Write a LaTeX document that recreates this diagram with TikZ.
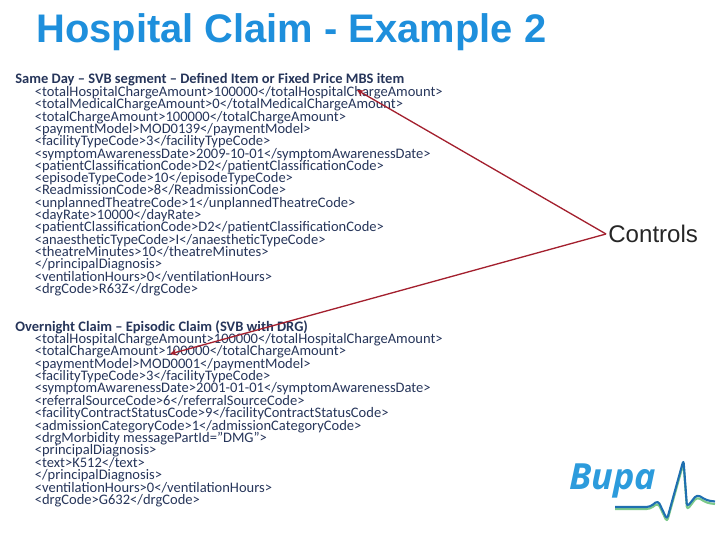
\documentclass[tikz,border=0pt]{standalone}
\usepackage{fontspec}
\setmainfont{Carlito}
\newfontfamily\arialfont{Liberation Sans}
\newfontfamily\logofont{Open Sans}
\definecolor{titleblue}{HTML}{1E8FDC}
\definecolor{arrowred}{HTML}{A3202E}
\definecolor{codeblue}{HTML}{26355A}
\definecolor{logoblue}{HTML}{2C9BDC}
\definecolor{wavegreen}{HTML}{7CC98A}
\definecolor{wavenavy}{HTML}{1F6FB0}
\tikzset{
    codeline/.style={anchor=base west,inner sep=0pt,text=codeblue,font=\fontsize{8.27}{10}\selectfont},
    headline/.style={codeline,font=\fontsize{8.24}{10}\selectfont\bfseries},
    redarrow/.style={arrowred,line width=0.75pt,-stealth},
    ecgline/.style={line width=1.2pt,line join=round,rounded corners=2pt}
}
\begin{document}
\begin{tikzpicture}
                \useasboundingbox (0,0) rectangle (14.4,10.8);
                \node[anchor=base west,inner sep=0pt,text=titleblue,font=\arialfont\bfseries\fontsize{22.7}{27}\selectfont] (title) at (0.72,9.94) {Hospital Claim - Example 2};

                \node[headline] (sameHead) at (0.30,9.13) {Same Day -- SVB segment -- Defined Item or Fixed Price MBS item};
                \node[codeline] (same1) at (0.69,8.87) {<totalHospitalChargeAmount>100000</totalHospitalChargeAmount>};
                \node[codeline] (same2) at (0.69,8.624) {<totalMedicalChargeAmount>0</totalMedicalChargeAmount>};
                \node[codeline] (same3) at (0.69,8.378) {<totalChargeAmount>100000</totalChargeAmount>};
                \node[codeline] (same4) at (0.69,8.132) {<paymentModel>MOD0139</paymentModel>};
                \node[codeline] (same5) at (0.69,7.886) {<facilityTypeCode>3</facilityTypeCode>};
                \node[codeline] (same6) at (0.69,7.639) {<symptomAwarenessDate>2009-10-01</symptomAwarenessDate>};
                \node[codeline] (same7) at (0.69,7.393) {<patientClassificationCode>D2</patientClassificationCode>};
                \node[codeline] (same8) at (0.69,7.147) {<episodeTypeCode>10</episodeTypeCode>};
                \node[codeline] (same9) at (0.69,6.90) {<ReadmissionCode>8</ReadmissionCode>};
                \node[codeline] (same10) at (0.69,6.654) {<unplannedTheatreCode>1</unplannedTheatreCode>};
                \node[codeline] (same11) at (0.69,6.408) {<dayRate>10000</dayRate>};
                \node[codeline] (same12) at (0.69,6.162) {<patientClassificationCode>D2</patientClassificationCode>};
                \node[codeline] (same13) at (0.69,5.916) {<anaestheticTypeCode>I</anaestheticTypeCode>};
                \node[codeline] (same14) at (0.69,5.67) {<theatreMinutes>10</theatreMinutes>};
                \node[codeline] (same15) at (0.69,5.424) {</principalDiagnosis>};
                \node[codeline] (same16) at (0.69,5.177) {<ventilationHours>0</ventilationHours>};
                \node[codeline] (same17) at (0.69,4.93) {<drgCode>R63Z</drgCode>};

                \node[headline] (overHead) at (0.30,4.17) {Overnight Claim -- Episodic Claim (SVB with DRG)};
                \node[codeline] (over1) at (0.69,3.93) {<totalHospitalChargeAmount>100000</totalHospitalChargeAmount>};
                \node[codeline] (over2) at (0.69,3.682) {<totalChargeAmount>100000</totalChargeAmount>};
                \node[codeline] (over3) at (0.69,3.435) {<paymentModel>MOD0001</paymentModel>};
                \node[codeline] (over4) at (0.69,3.187) {<facilityTypeCode>3</facilityTypeCode>};
                \node[codeline] (over5) at (0.69,2.94) {<symptomAwarenessDate>2001-01-01</symptomAwarenessDate>};
                \node[codeline] (over6) at (0.69,2.692) {<referralSourceCode>6</referralSourceCode>};
                \node[codeline] (over7) at (0.69,2.444) {<facilityContractStatusCode>9</facilityContractStatusCode>};
                \node[codeline] (over8) at (0.69,2.196) {<admissionCategoryCode>1</admissionCategoryCode>};
                \node[codeline] (over9) at (0.69,1.949) {<drgMorbidity messagePartId="DMG">};
                \node[codeline] (over10) at (0.69,1.701) {<principalDiagnosis>};
                \node[codeline] (over11) at (0.69,1.454) {<text>K512</text>};
                \node[codeline] (over12) at (0.69,1.206) {</principalDiagnosis>};
                \node[codeline] (over13) at (0.69,0.958) {<ventilationHours>0</ventilationHours>};
                \node[codeline] (over14) at (0.69,0.71) {<drgCode>G632</drgCode>};

                \node[anchor=base west,inner sep=0pt,text=black!85,font=\arialfont\fontsize{13.7}{16}\selectfont] (controls) at (12.16,5.94) {Controls};
                \coordinate (firstTip) at (7.14,9.0);
                \coordinate (secondTip) at (3.40,3.72);
                \coordinate (controlsEnd) at (12.12,6.12);
                \draw[redarrow] (controlsEnd) -- (firstTip);
                \draw[redarrow] (controlsEnd) -- (secondTip);

                \node[anchor=base west,inner sep=0pt,text=logoblue,font=\logofont\bfseries\itshape\fontsize{20.5}{24}\selectfont] (bupa) at (11.38,1.0) {Bupa};
                \draw[ecgline,wavegreen] (12.30,0.62) -- (13.00,0.62) -- (13.16,0.74) -- (13.34,0.36) -- (13.67,1.54) -- (13.74,0.60) -- (13.94,0.86) -- (14.14,0.74) -- (14.30,0.72);
                \draw[ecgline,wavenavy] (12.30,0.66) -- (13.00,0.66) -- (13.16,0.79) -- (13.34,0.41) -- (13.67,1.60) -- (13.74,0.66) -- (13.94,0.91) -- (14.14,0.79) -- (14.30,0.77);
            \end{tikzpicture}
\end{document}
